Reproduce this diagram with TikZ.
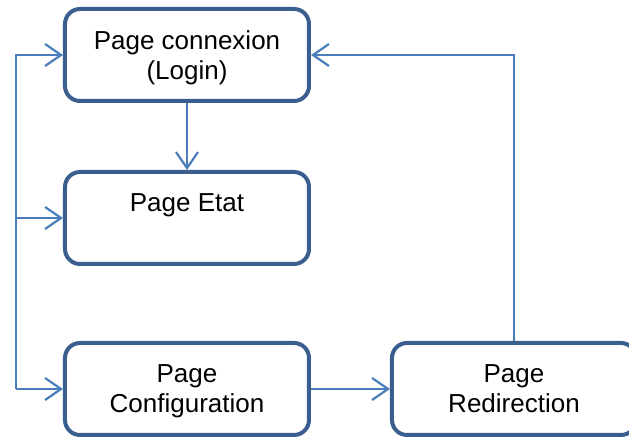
\documentclass[tikz,border=0pt]{standalone}
\usepackage{fontspec}
\setmainfont{Liberation Sans}
\usepackage{tikz}
\usetikzlibrary{arrows.meta}
\usetikzlibrary{positioning}
\definecolor{boxblue}{HTML}{3A5F8E}
\definecolor{linkblue}{HTML}{4A7EBB}
\tikzset{>={Straight Barb[length=8pt,width=11pt]}}

\begin{document}
\begin{tikzpicture}[x=0.5pt, y=-0.5pt,
		page/.style={rectangle, rounded corners=7.5pt, draw=boxblue, line width=2pt, fill=white, align=center, minimum width=122pt, minimum height=46pt, inner sep=0pt, text depth=0pt, font=\fontsize{13pt}{15pt}\selectfont},
		link/.style={->, draw=linkblue, line width=1.1pt},
		on grid, auto]
		\path[use as bounding box, clip] (0,0) rectangle (629,437);
		\node[page] (login) at (187,55) {Page connexion\\(Login)};
		\node[page] (etat) [below=81.5pt of login] {Page Etat\\\strut};
		\node[page] (conf) [below=85.5pt of etat] {Page\\Configuration};
		\node[page] (redir) [right=163.5pt of conf] {Page\\Redirection};
		\coordinate (left) at (16,389);
		\draw[link] (login) -- (etat);
		\draw[link] (left) |- (login);
		\draw[link] (left) |- (etat);
		\draw[link] (left) -- (conf);
		\draw[link] (conf) -- (redir);
		\draw[link] (redir.north) |- (login.east);
	\end{tikzpicture}
\end{document}
